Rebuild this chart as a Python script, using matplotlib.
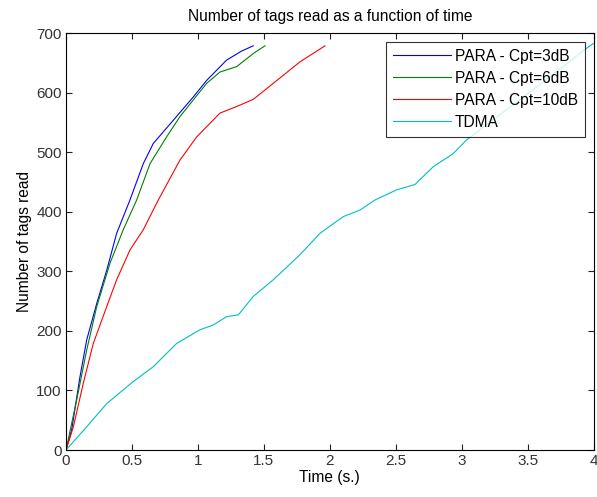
import matplotlib
matplotlib.use("Agg")
import matplotlib.pyplot as plt

plt.rcParams['font.family'] = ['Liberation Sans', 'DejaVu Sans']

t_3db = [0, 0.043, 0.106, 0.157, 0.233, 0.309, 0.384, 0.485, 0.586, 0.662, 0.814, 0.965, 1.067, 1.218, 1.33, 1.42]
n_3db = [0, 34, 123, 185, 246, 302, 364, 420, 481, 515, 554, 593, 621, 655, 670, 679]

t_6db = [0, 0.081, 0.157, 0.233, 0.334, 0.434, 0.536, 0.637, 0.763, 0.864, 0.965, 1.067, 1.168, 1.294, 1.42, 1.509]
n_6db = [0, 84, 168, 241, 314, 370, 420, 481, 526, 560, 588, 616, 635, 644, 666, 679]

t_10db = [0, 0.056, 0.131, 0.207, 0.309, 0.384, 0.485, 0.586, 0.70, 0.864, 0.991, 1.168, 1.294, 1.42, 1.572, 1.774, 1.964]
n_10db = [0, 39, 112, 179, 241, 286, 336, 370, 420, 487, 526, 566, 577, 589, 616, 652, 679]

t_tdma = [0, 0.157, 0.309, 0.51, 0.662, 0.839, 1.016, 1.117, 1.218, 1.307, 1.42, 1.572, 1.774, 1.926, 2.102, 2.229, 2.343, 2.507, 2.646, 2.785, 2.937, 3.038, 3.3, 3.6, 3.948, 4.0]
n_tdma = [0, 39, 78, 115, 140, 179, 202, 210, 224, 227, 258, 286, 328, 364, 392, 403, 420, 437, 446, 476, 498, 521, 565, 615, 675, 683]

labels = ['PARA - Cpt=3dB', 'PARA - Cpt=6dB', 'PARA - Cpt=10dB', 'TDMA']
colors = ['#0000ff', '#008000', '#ff0000', '#00bfbf']

fig = plt.figure(figsize=(5.97, 4.97), dpi=100)
ax = fig.add_axes([66/597, 47/497, 527.5/597, 416.7/497])

for (t, n), lab, c in zip([(t_3db, n_3db), (t_6db, n_6db), (t_10db, n_10db), (t_tdma, n_tdma)], labels, colors):
    ax.plot(t, n, color=c, lw=0.8, label=lab)

ax.set_xlim(0, 4)
ax.set_ylim(0, 700)
ax.set_xticks([0, 0.5, 1, 1.5, 2, 2.5, 3, 3.5, 4])
ax.set_xticklabels(['0', '0.5', '1', '1.5', '2', '2.5', '3', '3.5', '4'])
ax.set_yticks(range(0, 701, 100))
ax.tick_params(direction='in', top=True, right=True, labelsize=11, length=4, width=0.8, pad=3,
               colors='#222222', labelcolor='#333333')
for s in ax.spines.values():
    s.set_linewidth(0.8)
ax.set_title('Number of tags read as a function of time', fontsize=11.2, pad=9)
ax.set_xlabel('Time (s.)', fontsize=11.2, labelpad=1)
ax.set_ylabel('Number of tags read', fontsize=11.2, labelpad=3)

leg = ax.legend(loc='upper right', fontsize=11.2, frameon=True, fancybox=False, borderaxespad=0.55,
                handlelength=3.7, labelspacing=0.45, borderpad=0.45, handletextpad=0.25)
leg.get_frame().set_edgecolor('black')
leg.get_frame().set_linewidth(0.8)

fig.savefig('out.png', dpi=100)
